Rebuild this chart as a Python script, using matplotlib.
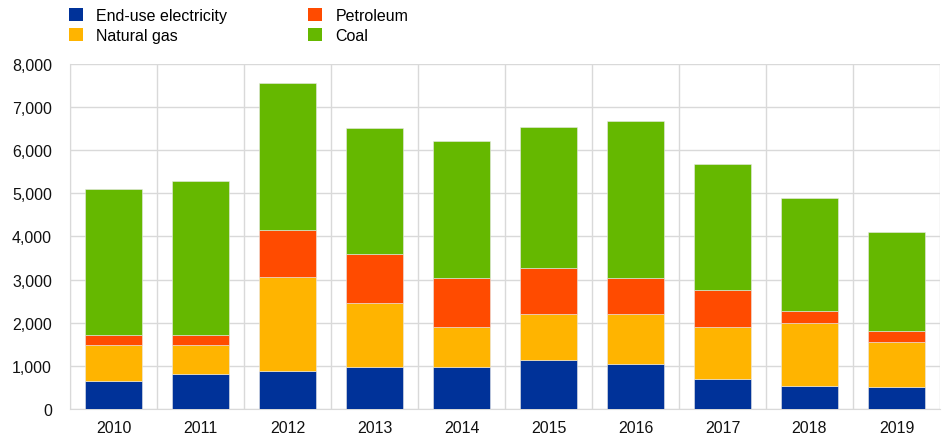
import numpy as np
import matplotlib
matplotlib.use("Agg")
import matplotlib.pyplot as plt
from matplotlib.patches import Patch

plt.rcParams['font.family'] = ['Liberation Sans', 'DejaVu Sans']

years = ['2010', '2011', '2012', '2013', '2014', '2015', '2016', '2017', '2018', '2019']
electricity = [650, 805, 874, 967, 982, 1144, 1051, 696, 541, 510]
natural_gas = [828, 687, 2181, 1492, 921, 1060, 1145, 1207, 1454, 1044]
petroleum = [239, 225, 1091, 1145, 1144, 1060, 836, 866, 286, 263]
coal = [3387, 3573, 3418, 2900, 3164, 3271, 3650, 2923, 2622, 2297]

series = [
    ('End-use electricity', electricity, '#003299'),
    ('Natural gas', natural_gas, '#FFB400'),
    ('Petroleum', petroleum, '#FF4B00'),
    ('Coal', coal, '#65B800'),
]

fig = plt.figure(figsize=(9.49, 4.39), dpi=100)
ax = fig.add_axes([0.0738, 0.066, 0.9167, 0.786])

x = np.arange(len(years))
bottom = np.zeros(len(years))
handles = []
for name, vals, col in series:
    ax.bar(x, vals, width=0.66, bottom=bottom, color=col, edgecolor='#e8e8e8',
           linewidth=0.4, zorder=3)
    bottom += np.array(vals)
    handles.append(Patch(facecolor=col, edgecolor='none', label=name))

ax.set_xlim(-0.5, len(years) - 0.5)
ax.set_ylim(0, 8000)
ax.set_yticks(np.arange(0, 8001, 1000))
ax.set_yticklabels([f'{v:,}' for v in range(0, 8001, 1000)])
ax.set_xticks(x)
ax.set_xticklabels(years)
ax.set_xticks(np.arange(-0.5, len(years), 1), minor=True)
ax.grid(axis='y', color='#d9d9d9', linewidth=1, zorder=0)
ax.grid(axis='x', which='minor', color='#d9d9d9', linewidth=1, zorder=0)
ax.tick_params(axis='both', which='both', length=0, labelsize=11.5, colors='#111111')
ax.tick_params(axis='x', pad=8)
ax.tick_params(axis='y', pad=13)
for s in ['top', 'right']:
    ax.spines[s].set_visible(False)
for s in ['left', 'bottom']:
    ax.spines[s].set_color('#d9d9d9')

fig.legend(handles=handles, ncol=2, loc='upper left', bbox_to_anchor=(0.0725, 0.98),
           frameon=False, fontsize=11.5, handlelength=0.875, handleheight=0.875,
           handletextpad=0.85, columnspacing=5.05, labelspacing=0.35, borderaxespad=0,
           borderpad=0)

fig.savefig('out.png', dpi=100)
